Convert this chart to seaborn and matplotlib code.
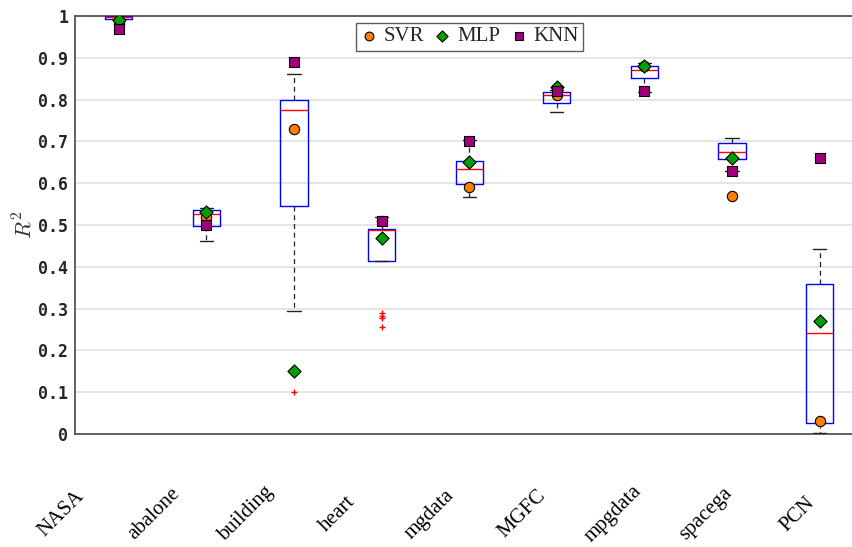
import numpy as np
import pandas as pd
import matplotlib
matplotlib.use("Agg")
import matplotlib.pyplot as plt
import matplotlib.transforms as mtransforms
import seaborn as sns

# ---------------- data ----------------
categories = ["NASA", "abalone", "building", "heart", "mgdata",
              "MGFC", "mpgdata", "spacega", "PCN"]

svr = [0.98, 0.52, 0.73, 0.51, 0.59, 0.81, 0.88, 0.57, 0.03]
mlp = [0.99, 0.53, 0.15, 0.47, 0.65, 0.83, 0.88, 0.66, 0.27]
knn = [0.97, 0.50, 0.89, 0.51, 0.70, 0.82, 0.82, 0.63, 0.66]

box_q1 = [0.994, 0.498, 0.546, 0.414, 0.597, 0.793, 0.851, 0.658, 0.026]
box_med = [0.997, 0.526, 0.776, 0.488, 0.633, 0.810, 0.872, 0.674, 0.242]
box_q3 = [0.999, 0.536, 0.799, 0.491, 0.652, 0.817, 0.880, 0.695, 0.359]
whisk_lo = [0.992, 0.461, 0.295, 0.414, 0.568, 0.770, 0.819, 0.630, 0.002]
whisk_hi = [1.000, 0.540, 0.861, 0.518, 0.703, 0.823, 0.888, 0.709, 0.443]
outliers = [[], [], [0.10], [0.289, 0.283, 0.277, 0.257], [], [], [], [], []]

y_ticks = [0, 0.1, 0.2, 0.3, 0.4, 0.5, 0.6, 0.7, 0.8, 0.9, 1.0]
y_tick_labels = ["0", "0.1", "0.2", "0.3", "0.4", "0.5", "0.6", "0.7", "0.8", "0.9", "1"]

# ---------------- figure ----------------
sns.set_theme(style="white")
plt.rcParams["mathtext.fontset"] = "cm"

fig = plt.figure(figsize=(8.53, 5.47), dpi=100)
ax = fig.add_axes([75 / 853, 1 - 434 / 547, 1 - 75 / 853, (434 - 16) / 547])

positions = list(range(1, len(categories) + 1))

stats = []
for i in range(len(categories)):
    stats.append(dict(q1=box_q1[i], med=box_med[i], q3=box_q3[i],
                      whislo=whisk_lo[i], whishi=whisk_hi[i],
                      fliers=outliers[i], label=categories[i]))

ax.bxp(stats, positions=positions, widths=0.31, capwidths=0.15,
       showfliers=True, patch_artist=False,
       boxprops=dict(color="#0000ff", linewidth=1.0),
       medianprops=dict(color="#ff0000", linewidth=1.0),
       whiskerprops=dict(color="#222222", linewidth=0.9, linestyle=(0, (4, 3))),
       capprops=dict(color="#222222", linewidth=1.0),
       flierprops=dict(marker="+", markeredgecolor="#ff0000",
                       markersize=5, markeredgewidth=1.0, linestyle="none"),
       zorder=3)

df = pd.DataFrame({"pos": positions, "SVR": svr, "MLP": mlp, "KNN": knn})

sns.scatterplot(data=df, x="pos", y="SVR", ax=ax, marker="o", s=55,
                color="#ff8000", edgecolor="black", linewidth=0.8,
                label="SVR", zorder=4)
sns.scatterplot(data=df, x="pos", y="MLP", ax=ax, marker="D", s=45,
                color="#00a000", edgecolor="black", linewidth=0.8,
                label="MLP", zorder=5)
sns.scatterplot(data=df, x="pos", y="KNN", ax=ax, marker="s", s=45,
                color="#a0007a", edgecolor="black", linewidth=0.8,
                label="KNN", zorder=6)

ax.set_xlim(0.5, 0.5 + 778 / 87.6)
ax.set_ylim(0, 1)

ax.set_yticks(y_ticks)
ax.set_yticklabels(y_tick_labels, fontfamily="DejaVu Sans Mono",
                   fontsize=12, fontweight="bold", color="#262626")
ax.tick_params(axis="y", direction="in", length=6, width=1,
               color="#555555", pad=5)

ax.set_xticks(positions)
ax.set_xticklabels(categories, rotation=45, ha="center", va="center",
                   rotation_mode="anchor", fontfamily="Liberation Serif",
                   fontsize=15, color="black")
ax.tick_params(axis="x", length=0, pad=0)
# the reference lays its rotated labels out slightly wider than the boxes
for i, lbl in enumerate(ax.get_xticklabels()):
    dx = (-57 + 4.4 * i) / 100.0
    off = mtransforms.ScaledTranslation(dx, -0.80, fig.dpi_scale_trans)
    lbl.set_transform(lbl.get_transform() + off)

ax.set_xlabel("")
ax.set_ylabel(r"$R^2$", fontsize=16, color="#333333")
ax.yaxis.set_label_coords(-0.05, 0.5)

ax.yaxis.grid(True, color="#e3e3e3", linewidth=1.3)
ax.xaxis.grid(False)
ax.set_axisbelow(True)

for side in ["top", "bottom", "left"]:
    ax.spines[side].set_visible(True)
    ax.spines[side].set_color("#555555")
    ax.spines[side].set_linewidth(1.3)
ax.spines["right"].set_visible(False)

leg = ax.legend(loc="upper center", bbox_to_anchor=(0.507, 0.984), ncol=3,
                frameon=True, fancybox=False, edgecolor="#333333",
                handletextpad=0.3, columnspacing=0.5, borderpad=0.2,
                borderaxespad=0, handlelength=0.8, markerscale=0.85,
                prop={"family": "Liberation Serif", "size": 15})
leg.get_frame().set_linewidth(1.0)

fig.savefig("out.png", dpi=100)
